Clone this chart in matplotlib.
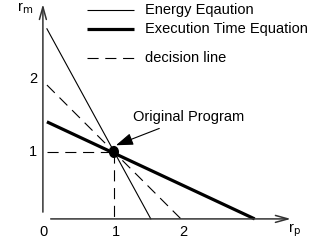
import matplotlib
matplotlib.use("Agg")
import matplotlib.pyplot as plt
from matplotlib.patches import Ellipse

plt.rcParams['font.family'] = ['Liberation Sans', 'DejaVu Sans']

# line end points (r_p, r_m)
energy_x = [0.0, 1.55]
energy_y = [2.84, 0.0]
exec_x = [0.0, 3.1]
exec_y = [1.45, 0.0]
decision_x = [0.0, 2.0]
decision_y = [2.0, 0.0]
orig_point = (1.0, 1.0)
xticks = [0, 1, 2]
yticks = [1, 2]
legend_labels = ["Energy Eqaution", "Execution Time Equation", "decision line"]

fig = plt.figure(figsize=(3.15, 2.41), dpi=100)
ax = fig.add_axes([0, 0, 1, 1])
ax.set_xlim(-0.70, 4.0)
ax.set_ylim(-0.33, 3.27)
ax.axis('off')

dash = (10, 6)

# axes with open arrow heads
ax.annotate('', xy=(3.68, 0), xytext=(0.015, 0),
            arrowprops=dict(arrowstyle='->,head_length=0.9,head_width=0.25', lw=1.1, color='#333333'))
ax.annotate('', xy=(-0.06, 3.25), xytext=(-0.06, 0.06),
            arrowprops=dict(arrowstyle='->,head_length=0.9,head_width=0.25', lw=1.1, color='#333333'))

ax.plot(energy_x, energy_y, color='black', lw=0.8)
ax.plot(exec_x, exec_y, color='black', lw=2.3, solid_capstyle='butt')
ax.plot(decision_x, decision_y, color='black', lw=0.8, dashes=dash)
ax.plot([0.0, orig_point[0]], [orig_point[1], orig_point[1]], color='black', lw=0.8, dashes=dash)
ax.plot([orig_point[0], orig_point[0]], [orig_point[1], 0.0], color='black', lw=0.8, dashes=dash)

ax.add_patch(Ellipse(orig_point, 0.13, 0.16, color='black', zorder=5))
ax.annotate('Original Program', xy=(1.03, 1.1), xytext=(1.28, 1.52),
            fontsize=10.5, ha='left', va='center',
            arrowprops=dict(arrowstyle='-|>,head_length=1.0,head_width=0.35', lw=0.8, color='black',
                            shrinkA=3, shrinkB=0))

for t in xticks:
    ax.text(t - 0.05 if t == 0 else t + 0.03, -0.19, str(t), fontsize=10.5, ha='center', va='center')
for t in yticks:
    ax.text(-0.21, t + (0.09 if t == 2 else 0.0), str(t), fontsize=10.5, ha='center', va='center')

ax.text(-0.33, 3.15, r'r$_\mathrm{m}$', fontsize=10.5, ha='center', va='center')
ax.text(3.70, -0.17, r'r$_\mathrm{p}$', fontsize=10.5, ha='center', va='center')

# legend drawn by hand
leg_y = [3.12, 2.84, 2.40]
leg_lw = [0.8, 2.3, 0.8]
leg_dash = [None, None, dash]
for y, lw, d, lab in zip(leg_y, leg_lw, leg_dash, legend_labels):
    if d:
        ax.plot([0.6, 1.3], [y, y], color='black', lw=lw, dashes=d)
    else:
        ax.plot([0.6, 1.3], [y, y], color='black', lw=lw, solid_capstyle='butt')
    ax.text(1.46, y, lab, fontsize=10.5, ha='left', va='center')

fig.savefig('out.png', dpi=100)
